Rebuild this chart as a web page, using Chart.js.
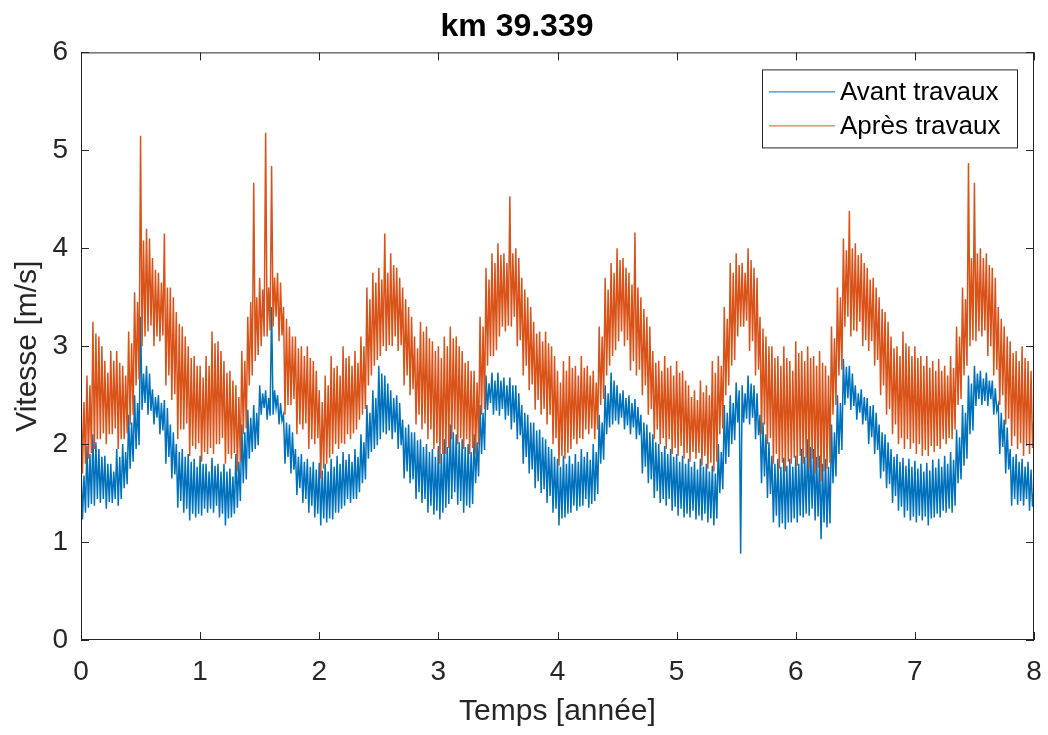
<!DOCTYPE html>
<html lang="fr">
<head>
<meta charset="UTF-8">
<title>km 39.339</title>
<script src="https://cdn.jsdelivr.net/npm/chart.js"></script>
<style>
  html, body { margin: 0; padding: 0; background: #fff; }
</style>
</head>
<body>
<canvas id="chart" width="1048" height="735"></canvas>
<script>
const xTicks = [0, 1, 2, 3, 4, 5, 6, 7, 8];
const yTicks = [0, 1, 2, 3, 4, 5, 6];
const seriesNames = ['Avant travaux', 'Après travaux'];

// vitesse avant travaux, one value every 0.0125 year
const avant = [
  1.75,1.23,1.68,1.30, 1.98,1.35,1.90,1.39, 2.10,1.37,2.02,1.44, 1.95,1.40,1.87,1.44,
  1.88,1.34,1.80,1.41, 1.80,1.40,1.72,1.44, 1.95,1.37,1.87,1.44, 2.00,1.55,1.92,1.59,
  2.30,1.75,2.22,1.82, 2.50,1.95,2.42,1.99, 3.30,2.35,2.72,2.42, 2.80,2.30,2.72,2.34,
  2.56,2.20,2.48,2.27, 2.50,2.10,2.42,2.14, 2.45,1.80,2.37,1.87, 2.20,1.65,2.12,1.69,
  2.00,1.35,1.92,1.42, 1.95,1.30,1.87,1.34, 1.90,1.22,1.82,1.29, 1.85,1.25,1.77,1.29,
  1.88,1.27,1.80,1.34, 1.80,1.30,1.72,1.34, 1.86,1.30,1.78,1.37, 1.80,1.25,1.72,1.29,
  1.80,1.17,1.72,1.24, 1.75,1.25,1.67,1.29, 1.90,1.35,1.82,1.42, 2.20,1.60,2.12,1.64,
  2.35,1.85,2.27,1.92, 2.40,1.95,2.32,1.99, 2.60,2.30,2.52,2.37, 2.55,2.25,2.47,2.29,
  3.40,2.30,2.55,2.37, 2.50,2.20,2.42,2.24, 2.30,1.80,2.22,1.87, 2.20,1.70,2.12,1.74,
  1.95,1.48,1.87,1.55, 1.90,1.40,1.82,1.44, 1.85,1.30,1.77,1.37, 1.82,1.25,1.74,1.29,
  1.81,1.17,1.73,1.24, 1.80,1.20,1.72,1.24, 1.85,1.23,1.77,1.30, 1.88,1.30,1.80,1.34,
  1.92,1.37,1.84,1.44, 1.90,1.40,1.82,1.44, 1.95,1.44,1.87,1.51, 2.10,1.60,2.02,1.64,
  2.40,1.85,2.32,1.92, 2.55,1.95,2.47,1.99, 2.80,2.05,2.72,2.12, 2.70,2.10,2.62,2.14,
  2.55,2.05,2.47,2.12, 2.50,1.95,2.42,1.99, 2.25,1.65,2.17,1.72, 2.20,1.60,2.12,1.64,
  2.12,1.44,2.04,1.51, 2.05,1.40,1.97,1.44, 2.00,1.30,1.92,1.37, 1.95,1.28,1.87,1.32,
  1.98,1.23,1.90,1.30, 2.05,1.35,1.97,1.39, 2.20,1.44,2.12,1.51, 2.10,1.38,2.02,1.42,
  2.05,1.30,1.97,1.37, 2.00,1.35,1.92,1.39, 2.10,1.60,2.02,1.67, 2.40,1.90,2.32,1.94,
  2.70,2.35,2.62,2.42, 2.73,2.30,2.65,2.34, 2.73,2.29,2.65,2.36, 2.68,2.25,2.60,2.29,
  2.68,2.15,2.60,2.22, 2.60,2.05,2.52,2.09, 2.40,1.80,2.32,1.87, 2.30,1.70,2.22,1.74,
  2.22,1.55,2.14,1.62, 2.15,1.50,2.07,1.54, 2.05,1.40,1.97,1.47, 1.95,1.30,1.87,1.34,
  1.85,1.17,1.77,1.24, 1.88,1.25,1.80,1.29, 1.88,1.30,1.80,1.37, 1.90,1.32,1.82,1.36,
  1.95,1.37,1.87,1.44, 1.92,1.35,1.84,1.39, 2.00,1.42,1.92,1.49, 2.30,1.80,2.22,1.84,
  2.60,2.10,2.52,2.17, 2.73,2.20,2.65,2.24, 2.60,2.20,2.52,2.27, 2.55,2.15,2.47,2.19,
  2.50,2.10,2.42,2.17, 2.46,2.05,2.38,2.09, 2.30,1.70,2.22,1.77, 2.20,1.60,2.12,1.64,
  2.10,1.45,2.02,1.52, 2.00,1.40,1.92,1.44, 1.98,1.37,1.90,1.44, 1.95,1.32,1.87,1.36,
  1.90,1.27,1.82,1.34, 1.88,1.25,1.80,1.29, 1.85,1.25,1.77,1.32, 1.82,1.23,1.74,1.27,
  1.85,1.22,1.77,1.29, 1.80,1.20,1.72,1.24, 1.78,1.17,1.70,1.24, 2.00,1.50,1.92,1.54,
  2.40,1.80,2.32,1.87, 2.50,2.00,2.42,2.04, 2.63,2.22,2.55,0.88, 2.60,2.22,2.52,2.26,
  2.70,2.20,2.62,2.27, 2.60,2.05,2.52,2.09, 2.30,1.60,2.22,1.67, 2.10,1.45,2.02,1.49,
  1.88,1.20,1.80,1.27, 1.85,1.15,1.77,1.19, 1.86,1.13,1.78,1.20, 1.85,1.20,1.77,1.24,
  1.88,1.20,1.80,1.27, 1.95,1.25,1.87,1.29, 2.05,1.27,1.97,1.34, 1.95,1.22,1.87,1.26,
  1.88,1.03,1.80,1.20, 1.85,1.15,1.77,1.19, 2.20,1.60,2.12,1.67, 2.50,1.90,2.42,1.94,
  2.87,2.40,2.79,2.47, 2.80,2.35,2.72,2.39, 2.60,2.25,2.52,2.32, 2.56,2.20,2.48,2.24,
  2.47,2.00,2.39,2.07, 2.40,1.90,2.32,1.94, 2.20,1.65,2.12,1.72, 2.10,1.55,2.02,1.59,
  1.95,1.40,1.87,1.47, 1.90,1.32,1.82,1.36, 1.86,1.25,1.78,1.32, 1.85,1.22,1.77,1.26,
  1.83,1.20,1.75,1.27, 1.80,1.22,1.72,1.26, 1.81,1.17,1.73,1.24, 1.84,1.25,1.76,1.29,
  1.85,1.25,1.77,1.32, 1.88,1.30,1.80,1.34, 1.92,1.30,1.84,1.37, 2.15,1.60,2.07,1.64,
  2.40,1.78,2.32,1.85, 2.70,2.10,2.62,2.14, 2.80,2.39,2.72,2.46, 2.75,2.40,2.67,2.44,
  2.73,2.39,2.65,2.46, 2.65,2.30,2.57,2.34, 2.40,1.90,2.32,1.97, 2.25,1.70,2.17,1.74,
  1.95,1.37,1.87,1.44, 1.90,1.38,1.82,1.42, 1.85,1.37,1.77,1.44, 1.82,1.32,1.74,1.36,
  1.55
];

// vitesse après travaux, same sampling
const apres = [
  2.55,1.70,2.43,1.80, 2.70,1.85,2.60,1.91, 3.25,1.95,3.13,2.05, 3.10,2.05,3.00,2.11,
  2.85,2.00,2.73,2.10, 2.95,2.10,2.85,2.16, 2.95,1.95,2.83,2.05, 2.80,2.05,2.70,2.11,
  3.15,2.20,3.03,2.30, 3.55,2.60,3.45,2.66, 5.15,3.00,4.08,3.10, 4.20,3.15,4.10,3.21,
  3.90,3.00,3.78,3.10, 3.75,3.05,3.65,3.11, 4.15,2.60,3.60,2.70, 3.60,2.45,3.50,2.51,
  3.35,2.05,3.23,2.15, 3.20,2.15,3.10,2.21, 3.00,1.88,2.88,1.98, 2.90,1.95,2.80,2.01,
  2.80,1.82,2.68,1.92, 2.90,1.90,2.80,1.96, 3.15,1.90,3.03,2.00, 3.05,2.00,2.95,2.06,
  2.85,1.80,2.73,1.90, 2.75,1.85,2.65,1.91, 2.60,1.72,2.48,1.82, 2.95,2.10,2.85,2.16,
  3.30,2.60,3.45,2.70, 4.67,2.85,3.50,2.91, 3.70,3.00,3.58,3.10, 5.18,3.10,3.60,3.16,
  4.84,3.20,3.70,3.30, 3.75,3.05,3.65,3.11, 3.40,2.30,3.28,2.40, 3.20,2.40,3.10,2.46,
  3.10,2.10,2.98,2.20, 3.00,2.15,2.90,2.21, 3.00,1.95,2.88,2.05, 2.85,2.00,2.75,2.06,
  2.55,1.65,2.43,1.75, 2.70,1.80,2.60,1.86, 2.90,1.90,2.78,2.00, 2.80,1.95,2.70,2.01,
  3.00,2.00,2.88,2.10, 2.90,2.05,2.80,2.11, 2.95,2.15,2.83,2.25, 3.10,2.30,3.00,2.36,
  3.60,2.60,3.48,2.70, 3.75,2.80,3.65,2.86, 3.80,2.90,3.68,3.00, 4.15,2.95,3.75,3.01,
  3.95,3.00,3.83,3.10, 3.80,2.95,3.70,3.01, 3.60,2.60,3.48,2.70, 3.40,2.50,3.30,2.56,
  3.10,2.20,2.98,2.30, 3.25,2.15,3.15,2.21, 3.20,2.05,3.08,2.15, 3.05,1.95,2.95,2.01,
  3.00,1.80,2.88,1.90, 3.10,1.90,3.00,1.96, 3.20,2.05,3.08,2.15, 3.10,2.00,3.00,2.06,
  2.95,1.95,2.83,2.05, 2.85,1.90,2.75,1.96, 2.75,1.90,2.63,2.00, 3.30,2.30,3.20,2.36,
  3.80,2.80,3.68,2.90, 3.95,2.90,3.85,2.96, 4.05,3.10,3.93,3.20, 3.95,3.15,3.85,3.21,
  4.53,3.20,3.95,3.30, 4.00,3.00,3.90,3.06, 3.70,2.70,3.58,2.80, 3.50,2.55,3.40,2.61,
  3.25,2.35,3.13,2.45, 3.15,2.30,3.05,2.36, 3.15,2.20,3.03,2.30, 3.00,2.00,2.90,2.06,
  2.75,1.78,2.63,1.88, 2.85,1.85,2.75,1.91, 2.90,1.95,2.78,2.05, 2.80,2.00,2.70,2.06,
  2.90,2.05,2.78,2.15, 2.80,2.10,2.70,2.16, 2.75,2.05,2.63,2.15, 3.20,2.40,3.10,2.46,
  3.70,2.70,3.58,2.80, 3.85,2.90,3.75,2.96, 4.00,3.05,3.88,3.15, 3.90,3.00,3.80,3.06,
  3.75,2.75,3.63,2.85, 4.16,2.70,3.60,2.76, 3.50,2.50,3.38,2.60, 3.30,2.30,3.20,2.36,
  2.95,2.05,2.83,2.15, 2.85,2.00,2.75,2.06, 2.90,1.95,2.78,2.05, 2.80,1.90,2.70,1.96,
  2.85,1.88,2.73,1.98, 2.75,1.85,2.65,1.91, 2.60,1.82,2.48,1.92, 2.55,1.85,2.45,1.91,
  2.65,1.78,2.53,1.88, 2.60,1.75,2.50,1.81, 2.85,1.72,2.73,1.82, 2.90,2.10,2.80,2.16,
  3.40,2.50,3.28,2.60, 3.85,2.80,3.75,2.86, 3.95,3.10,3.83,3.20, 3.85,3.20,3.75,3.26,
  4.00,2.95,3.88,3.05, 3.80,2.70,3.70,2.76, 3.30,2.10,3.18,2.20, 3.10,2.00,3.00,2.06,
  3.00,1.80,2.88,1.90, 2.90,1.75,2.80,1.81, 3.00,1.72,2.88,1.82, 2.85,1.80,2.75,1.86,
  3.05,1.78,2.93,1.88, 2.95,1.80,2.85,1.86, 3.00,1.75,2.88,1.85, 2.90,1.70,2.80,1.76,
  2.95,1.62,2.83,1.72, 2.80,1.75,2.70,1.81, 3.20,2.30,3.08,2.40, 3.60,2.70,3.50,2.76,
  4.10,3.20,3.98,3.30, 4.38,3.10,4.00,3.16, 4.05,3.15,3.93,3.25, 3.95,3.00,3.85,3.06,
  3.80,2.95,3.68,3.05, 3.70,2.80,3.60,2.86, 3.50,2.50,3.38,2.60, 3.35,2.30,3.25,2.36,
  3.10,2.10,2.98,2.20, 3.00,2.00,2.90,2.06, 3.15,1.95,3.03,2.05, 3.00,1.95,2.90,2.01,
  3.00,1.90,2.88,2.00, 2.90,1.88,2.80,1.94, 2.90,1.88,2.78,1.98, 2.85,1.92,2.75,1.98,
  2.87,1.95,2.75,2.05, 2.80,2.00,2.70,2.06, 2.90,2.05,2.78,2.15, 3.20,2.40,3.10,2.46,
  3.60,2.70,3.48,2.80, 4.87,3.00,3.90,3.06, 4.67,3.05,3.95,3.15, 4.00,3.10,3.90,3.16,
  3.95,2.90,3.83,3.00, 3.80,2.70,3.70,2.76, 3.40,2.40,3.28,2.50, 3.20,2.20,3.10,2.26,
  3.05,1.98,2.93,2.08, 2.95,1.95,2.85,2.01, 3.00,1.88,2.88,1.98, 2.85,1.90,2.75,1.96,
  2.30
];

// time axis in years (regular sampling)
const step = 0.0125;
const temps = avant.map((_, i) => i * step);

const FONT = "'Liberation Sans', Arial, Helvetica, sans-serif";
const AXIS = '#262626';

const toPoints = vals => vals.map((v, i) => ({ x: temps[i], y: v }));

// MATLAB-like box, inward ticks and legend inside the axes
const axesFrame = {
    id: 'axesFrame',
    afterDraw(chart) {
        const { ctx, chartArea: a, scales: { x, y } } = chart;
        ctx.save();
        ctx.strokeStyle = AXIS;
        ctx.lineWidth = 1;
        ctx.strokeRect(a.left + 0.5, a.top + 0.5, a.right - a.left - 1, a.bottom - a.top - 1);
        const L = 8;
        ctx.beginPath();
        x.ticks.forEach(t => {
            const px = Math.round(x.getPixelForValue(t.value)) + 0.5;
            ctx.moveTo(px, a.bottom); ctx.lineTo(px, a.bottom - L);
            ctx.moveTo(px, a.top); ctx.lineTo(px, a.top + L);
        });
        y.ticks.forEach(t => {
            const py = Math.round(y.getPixelForValue(t.value)) + 0.5;
            ctx.moveTo(a.left, py); ctx.lineTo(a.left + L, py);
            ctx.moveTo(a.right, py); ctx.lineTo(a.right - L, py);
        });
        ctx.stroke();

        // legend box
        const bw = 255, bh = 78;
        const bx = a.right - 17 - bw, by = a.top + 17;
        ctx.fillStyle = '#fff';
        ctx.fillRect(bx, by, bw, bh);
        ctx.strokeRect(bx + 0.5, by + 0.5, bw, bh);
        ctx.font = '26px ' + FONT;
        ctx.textBaseline = 'middle';
        chart.data.datasets.forEach((ds, i) => {
            const ry = by + 22 + i * 34;
            ctx.strokeStyle = ds.borderColor;
            ctx.lineWidth = 1;
            ctx.beginPath();
            ctx.moveTo(bx + 7, ry + 0.5);
            ctx.lineTo(bx + 73, ry + 0.5);
            ctx.stroke();
            ctx.fillStyle = '#000';
            ctx.fillText(ds.label, bx + 78, ry + 1);
        });
        ctx.restore();
    }
};

new Chart(document.getElementById('chart'), {
    type: 'line',
    data: {
        datasets: [
            {
                label: seriesNames[0],
                data: toPoints(avant),
                borderColor: '#0072BD',
                borderWidth: 1.5,
                pointRadius: 0,
                tension: 0,
                order: 1
            },
            {
                label: seriesNames[1],
                data: toPoints(apres),
                borderColor: '#D95319',
                borderWidth: 1.5,
                pointRadius: 0,
                tension: 0,
                order: 0
            }
        ]
    },
    options: {
        responsive: false,
        animation: false,
        layout: { padding: { left: 0, right: 14, top: 0, bottom: 0 } },
        plugins: {
            legend: { display: false },
            tooltip: { enabled: false },
            title: {
                display: true,
                text: 'km 39.339',
                color: '#000',
                font: { family: FONT, size: 32, weight: 'bold' },
                padding: { top: 8, bottom: 6 }
            }
        },
        scales: {
            x: {
                type: 'linear',
                min: 0,
                max: 8,
                afterBuildTicks: s => { s.ticks = xTicks.map(v => ({ value: v })); },
                afterFit: s => { s.height = 95; s.paddingLeft = 0; s.paddingRight = 0; },
                grid: { display: false, drawTicks: false },
                border: { display: false },
                ticks: { padding: 15, color: AXIS, maxRotation: 0, font: { family: FONT, size: 28 } },
                title: {
                    display: true,
                    text: 'Temps [année]',
                    color: AXIS,
                    font: { family: FONT, size: 30 },
                    padding: { top: 0, bottom: 5 }
                }
            },
            y: {
                min: 0,
                max: 6,
                afterBuildTicks: s => { s.ticks = yTicks.map(v => ({ value: v })); },
                afterFit: s => { s.width = 81; s.paddingTop = 0; s.paddingBottom = 0; },
                grid: { display: false, drawTicks: false },
                border: { display: false },
                ticks: { padding: 13, color: AXIS, font: { family: FONT, size: 28 } },
                title: {
                    display: true,
                    text: 'Vitesse [m/s]',
                    color: AXIS,
                    font: { family: FONT, size: 30 },
                    padding: { top: 10, bottom: 0 }
                }
            }
        }
    },
    plugins: [axesFrame]
});
</script>
</body>
</html>
